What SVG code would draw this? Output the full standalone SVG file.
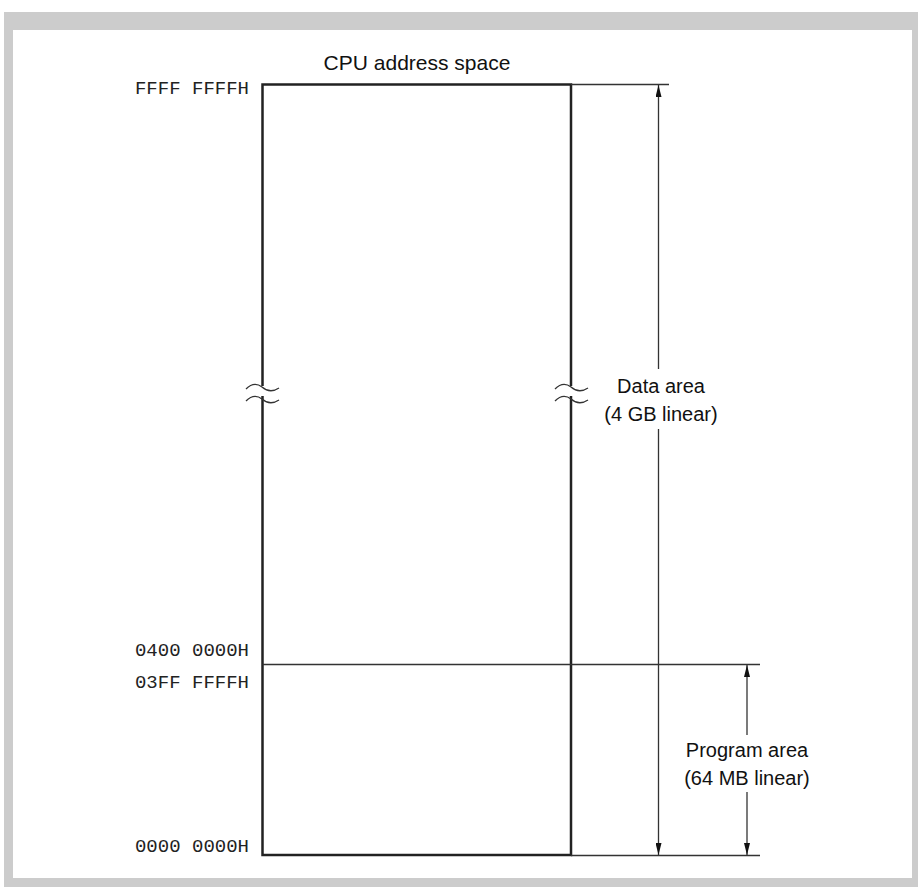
<svg xmlns="http://www.w3.org/2000/svg" width="918" height="887" viewBox="0 0 918 887">
<style>
.sans{font-family:"Liberation Sans",Arial,sans-serif;font-size:20px;fill:#111}
.mono{font-family:"Liberation Mono","Courier New",monospace;font-size:19px;fill:#222;text-anchor:end}
.thin{stroke:#333;stroke-width:1.3;fill:none}
.thick{stroke:#222;stroke-width:2.5;fill:none}
.wave{stroke:#333;stroke-width:1.3;fill:none}
</style>
<defs>
<marker id="ah" viewBox="0 0 12 6" refX="12" refY="3" markerWidth="12" markerHeight="6" markerUnits="userSpaceOnUse" orient="auto">
<path d="M0,0 L12,3 L0,6 Z" fill="#111"/>
</marker>
</defs>
<rect x="0" y="0" width="918" height="887" fill="#fff"/>
<rect x="4" y="12" width="914" height="875" fill="#cccccc"/>
<rect x="13" y="30" width="899" height="848" fill="#fff"/>

<g id="title"><text class="sans" x="417" y="70" text-anchor="middle" style="font-size:21px">CPU address space</text></g>

<g id="memory-box">
<rect class="thick" x="262.5" y="84.5" width="308.5" height="770.5"/>
<line class="thin" x1="262.5" y1="664.5" x2="760" y2="664.5"/>
</g>

<g id="addresses">
<text class="mono" x="249" y="94">FFFF FFFFH</text>
<text class="mono" x="249" y="656">0400 0000H</text>
<text class="mono" x="249" y="688">03FF FFFFH</text>
<text class="mono" x="249" y="852">0000 0000H</text>
</g>

<g id="breaks">
<rect x="244" y="386" width="37" height="10" fill="#fff"/>
<path class="wave" d="M246,389 Q254,381 262,387 Q270,394 279,388"/>
<path class="wave" d="M246,401 Q254,393 262,399 Q270,406 279,400"/>
<rect x="553" y="386" width="37" height="10" fill="#fff"/>
<path class="wave" d="M555,389 Q563,381 571,387 Q579,394 588,388"/>
<path class="wave" d="M555,401 Q563,393 571,399 Q579,406 588,400"/>
</g>

<g id="connectors">
<line class="thin" x1="571" y1="84.5" x2="669" y2="84.5"/>
<line class="thin" x1="571" y1="855.5" x2="760" y2="855.5"/>
<line class="thin" x1="658.5" y1="369" x2="658.5" y2="85" marker-end="url(#ah)"/>
<line class="thin" x1="658.5" y1="429" x2="658.5" y2="855" marker-end="url(#ah)"/>
<line class="thin" x1="747" y1="735" x2="747" y2="665" marker-end="url(#ah)"/>
<line class="thin" x1="747" y1="792" x2="747" y2="855" marker-end="url(#ah)"/>
</g>

<g id="data-area-label">
<text class="sans" x="661" y="393" text-anchor="middle">Data area</text>
<text class="sans" x="661" y="421" text-anchor="middle">(4 GB linear)</text>
</g>
<g id="program-area-label">
<text class="sans" x="747" y="757" text-anchor="middle">Program area</text>
<text class="sans" x="747" y="785" text-anchor="middle">(64 MB linear)</text>
</g>
</svg>
